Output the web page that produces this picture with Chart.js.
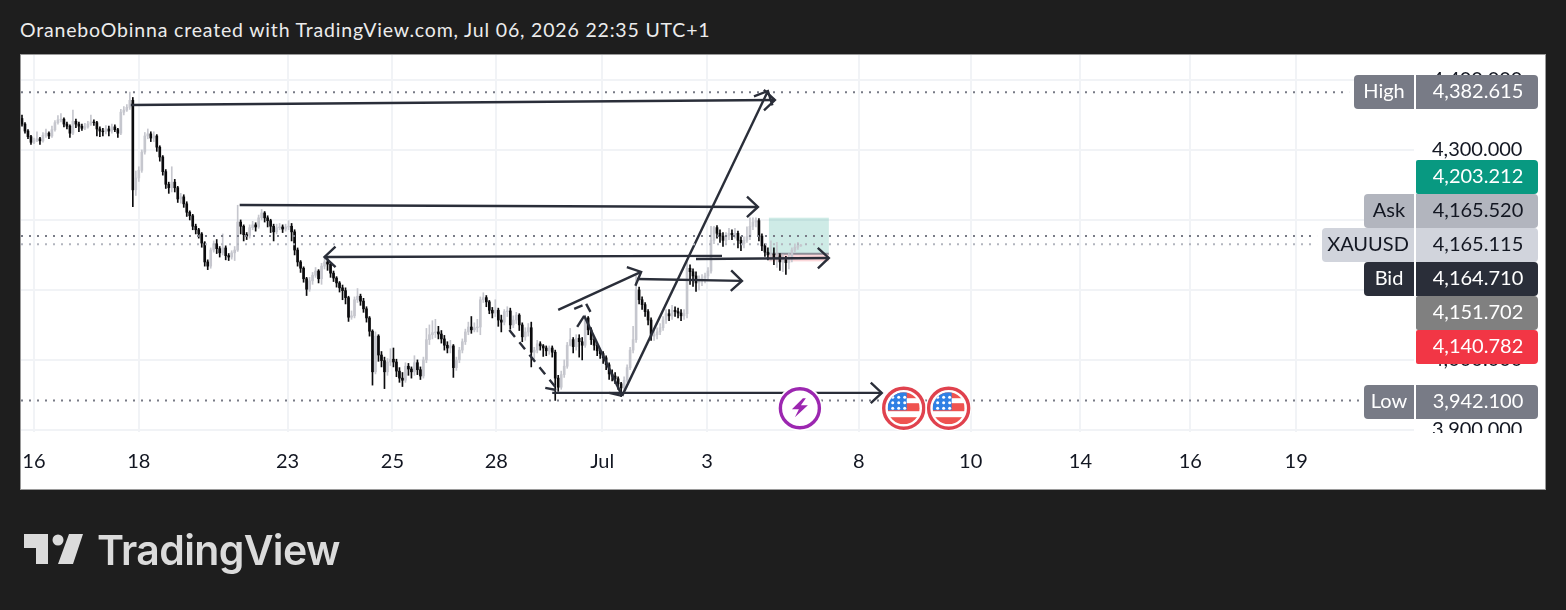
<!DOCTYPE html>
<html>
<head>
<meta charset="utf-8">
<title>XAUUSD</title>
<script src="https://cdn.jsdelivr.net/npm/chart.js@4"></script>
<style>
  html, body { margin: 0; padding: 0; width: 1566px; height: 610px; overflow: hidden; background: #1e1e1e; }
  #title { position: absolute; left: 20px; top: 18px; color: #ececec; font: 400 19.5px Lato, sans-serif; letter-spacing: 0.82px; white-space: nowrap; }
  #panel { position: absolute; left: 20px; top: 54px; width: 1524px; height: 434px; background: #fff; border: 1px solid #9a9a9a; }
  #chart { position: absolute; left: 0; top: 0; }
  #logo { position: absolute; left: 0; top: 520px; }
  #brand { position: absolute; left: 97px; top: 525px; color: #dbdbdb; font: 600 41px Inter, sans-serif; letter-spacing: -0.65px; white-space: nowrap; }
</style>
</head>
<body>
<div id="title">OraneboObinna created with TradingView.com, Jul 06, 2026 22:35 UTC+1</div>
<div id="panel"></div>
<canvas id="chart" width="1566" height="610"></canvas>
<svg id="logo" width="96" height="60"><path d="M24 14h24v30H36V28H24z M69 14h14L73 44H58z" fill="#dbdbdb"/><circle cx="58" cy="20" r="5.5" fill="#dbdbdb"/></svg>
<div id="brand">TradingView</div>
<script>
const firstOpen = 4345;
const closes = [
  4337,4327,4319,4311,4314,4316,4313,4321,4324,4320,4329,4339,4343,4344,4337,4334,4324,4341,4337,4334,
  4331,4333,4337,4340,4339,4330,4327,4326,4330,4327,4333,4329,4324,4354,4357,4361,4371,4243,4260,4271,
  4297,4320,4323,4317,4320,4304,4290,4269,4251,4246,4254,4246,4230,4233,4223,4211,4206,4191,4186,4180,
  4167,4140,4134,4157,4166,4159,4153,4160,4149,4147,4153,4157,4197,4191,4179,4177,4189,4193,4190,4203,
  4210,4203,4199,4191,4183,4189,4190,4187,4190,4191,4183,4157,4140,4131,4116,4101,4113,4121,4127,4116,
  4134,4140,4137,4124,4117,4110,4103,4099,4089,4061,4063,4086,4091,4084,4073,4060,4041,3983,4034,4007,
  3999,3983,3997,4001,3997,3984,3974,3971,3991,3987,3983,3996,3986,3977,4000,4029,4036,4039,4040,4037,
  4030,4021,4017,4020,3989,4000,4014,4026,4040,4047,4043,4046,4047,4086,4089,4083,4071,4067,4071,4057,
  4054,4069,4070,4050,4057,4064,4050,4033,4040,4046,4011,4014,4023,4020,4017,4013,4017,4011,3974,3961,
  3979,3991,4021,4029,4019,4031,4026,4021,4060,4043,4029,4021,4013,4009,4003,3993,3980,3977,3973,3966,
  3960,3971,3989,4014,4029,4100,4086,4079,4069,4057,4034,4036,4040,4046,4057,4066,4063,4071,4069,4067,
  4063,4066,4131,4126,4120,4110,4114,4117,4120,4127,4171,4189,4181,4177,4171,4177,4181,4179,4181,4171,
  4166,4171,4176,4191,4197,4199,4177,4163,4154,4150,4151,4146,4149,4140,4143,4139,4146,4157,4161,4163,4164
];
const highs = [
  4350,4339,4329,4321,4317,4326,4318,4325,4330,4326,4334,4342,4349,4352,4346,4340,4336,4357,4344,4340,
  4337,4338,4341,4350,4343,4341,4333,4331,4335,4334,4337,4336,4331,4358,4362,4365,4382.6,4375,4270,4276,
  4300,4325,4330,4326,4326,4322,4306,4292,4272,4254,4276,4258,4248,4238,4236,4226,4213,4208,4194,4188,
  4182,4169,4143,4160,4170,4172,4162,4180,4163,4152,4156,4162,4221,4200,4193,4182,4193,4198,4196,4207,
  4215,4212,4206,4201,4194,4194,4195,4193,4194,4199,4195,4186,4160,4142,4133,4118,4118,4125,4132,4129,
  4138,4148,4145,4139,4127,4119,4112,4107,4103,4091,4070,4090,4102,4094,4088,4076,4062,4043,4040,4036,
  4012,4004,4002,4016,4017,4001,3989,3982,3996,3995,3990,4006,4000,3990,4004,4045,4050,4056,4058,4048,
  4042,4035,4026,4028,4022,4004,4018,4030,4044,4054,4062,4053,4058,4090,4096,4092,4085,4075,4086,4074,
  4064,4072,4076,4074,4063,4068,4066,4053,4046,4052,4054,4018,4028,4026,4022,4020,4020,4020,4014,3978,
  3984,4000,4025,4045,4032,4036,4036,4032,4064,4062,4046,4032,4024,4016,4012,4006,3996,3986,3982,3976,
  3968,3976,3993,4018,4048,4120,4104,4090,4082,4072,4060,4044,4046,4052,4062,4072,4072,4078,4076,4074,
  4072,4072,4140,4136,4130,4126,4120,4122,4124,4132,4191,4191,4192,4186,4182,4182,4188,4186,4188,4184,
  4176,4176,4190,4203,4203,4203,4202,4180,4166,4160,4170,4160,4168,4152,4150,4148,4152,4160,4166,4168,4165
];
const lows = [
  4334,4324,4316,4308,4309,4312,4308,4311,4318,4316,4318,4327,4337,4340,4333,4330,4318,4322,4332,4326,
  4328,4329,4331,4335,4335,4320,4319,4320,4323,4320,4324,4326,4318,4322,4350,4355,4358,4219,4235,4255,
  4268,4294,4316,4312,4312,4298,4284,4264,4245,4238,4240,4240,4225,4224,4218,4205,4200,4186,4180,4174,
  4161,4134,4129,4131,4154,4152,4147,4150,4143,4142,4144,4142,4155,4180,4170,4172,4174,4186,4184,4188,
  4200,4197,4190,4182,4170,4180,4186,4182,4184,4186,4170,4150,4134,4125,4111,4092,4098,4108,4118,4110,
  4108,4130,4128,4118,4112,4104,4097,4086,4080,4055,4058,4060,4082,4078,4068,4054,4034,3964,3980,3998,
  3990,3959,3978,3992,3990,3976,3968,3962,3968,3978,3974,3978,3979,3972,3974,3996,4022,4030,4032,4030,
  4024,4014,4010,4010,3975,3985,3996,4010,4022,4036,4038,4040,4040,4036,4082,4076,4066,4060,4062,4048,
  4040,4050,4062,4044,4046,4052,4042,4026,4028,4034,3990,4000,4010,4014,4005,4006,4008,4004,3942.1,3955,
  3958,3975,3988,4020,4010,4014,4004,4000,4018,4036,4022,4014,4006,4002,3995,3986,3972,3970,3966,3958,
  3948,3955,3968,3986,4010,4025,4080,4072,4062,4050,4028,4028,4030,4036,4042,4052,4056,4058,4062,4060,
  4056,4058,4060,4108,4105,4098,4100,4106,4110,4116,4124,4166,4174,4168,4162,4166,4172,4172,4174,4160,
  4156,4160,4168,4172,4186,4190,4170,4156,4148,4143,4142,4136,4132,4128,4126,4122,4130,4140,4154,4158,4162
];
const timeTicks = [4, 39, 88.67, 123.67, 158.33, 193.67, 228.67, 279.33, 316.67, 353.33, 390, 425.33];
const timeLabels = ['16', '18', '23', '25', '28', 'Jul', '3', '8', '10', '14', '16', '19'];
const priceTicks = [4400, 4300, 4200, 4100, 4000, 3900];

// [bar, price, bar, price], head at the second point
const arrows = [
  [36.33, 4364.3, 251.33, 4371.4],
  [200.33, 3948.6, 249, 4384.3],
  [72.67, 4221.4, 245.67, 4218.6],
  [233.67, 4148.6, 101, 4147.1],
  [225, 4144.3, 269.33, 4145.7],
  [205.33, 4115.7, 240.33, 4112.9],
  [179, 4071.4, 206.67, 4125.7],
  [177, 3952.9, 287, 3952.9]
];
const plainLines = [
  [200.33, 3948.6, 187.67, 4063],
  [196, 3952.9, 200.33, 3948.6],
  [185.33, 4047.2, 187.67, 4063],
  [174.67, 3960, 178.33, 3957]
];
const dashedLines = [
  [162.67, 4042.9, 178.33, 3960],
  [184.33, 4073, 188.33, 4080],
  [188.33, 4080, 190.33, 4064.3]
];
// price, last bar
const levels = [[4382.615, 443], [4177, 432.3], [4165.115, 432.3], [3942.1, 446.3]];
const levelColors = ['#787b86', '#787b86', '#b2b5be', '#787b86'];

const boxBars = [249.33, 269.33];
const tpPrice = 4203.212, entryPrice = 4151.702, slPrice = 4140.782;

const badgeNames = ['High', '', 'Ask', 'XAUUSD', 'Bid', '', '', 'Low'];
const badgePrices = [4382.615, 4203.212, 4165.52, 4165.115, 4164.71, 4151.702, 4140.782, 3942.1];

const eventBars = [259.67, 294.33, 309.33];
const eventPrice = 3931;

// badge styles
const badgeTops = [75, 160, 194, 228, 262, 296, 330, 385];
const badgeLefts = [1354, 0, 1364, 1322, 1364, 0, 0, 1364];
const badgeFills = ['#787b86', '#089981', '#b2b5be', '#d1d4dc', '#2a2e39', '#808080', '#f23645', '#787b86'];
const badgeInk = ['#fff', '#fff', '#131722', '#131722', '#fff', '#fff', '#fff', '#fff'];

const fmt = v => v.toLocaleString('en-US', { minimumFractionDigits: 3, maximumFractionDigits: 3 });
const opens = closes.map((c, i) => i ? closes[i - 1] : firstOpen);
const inkFor = closes.map((c, i) => c >= opens[i] ? '#c6c7ce' : '#0b0b0d');

const segment = (s, color, dash) => ({
  type: 'line',
  data: [{ x: s[0], y: s[1] }, { x: s[2], y: s[3] }],
  borderColor: color,
  borderWidth: dash && dash[0] === 2 ? 2 : 2.4,
  borderDash: dash || [],
  pointRadius: 0,
  tension: 0,
  order: 0
});

const riskBox = {
  id: 'riskBox',
  beforeDatasetsDraw(chart) {
    const { ctx, scales: { x, y } } = chart;
    const l = x.getPixelForValue(boxBars[0]), r = x.getPixelForValue(boxBars[1]);
    const top = y.getPixelForValue(tpPrice), mid = y.getPixelForValue(entryPrice), bot = y.getPixelForValue(slPrice);
    ctx.save();
    ctx.fillStyle = 'rgba(8,153,129,0.2)';
    ctx.fillRect(l, top, r - l, mid - top);
    ctx.fillStyle = 'rgba(242,54,69,0.2)';
    ctx.fillRect(l, mid, r - l, bot - mid);
    ctx.fillStyle = 'rgba(120,123,134,0.8)';
    ctx.fillRect(l, mid - 1, r - l, 2);
    ctx.restore();
  }
};

function drawFlag(ctx, cx, cy) {
  ctx.save();
  ctx.fillStyle = '#fff';
  ctx.beginPath(); ctx.arc(cx, cy, 23, 0, Math.PI * 2); ctx.fill();
  ctx.strokeStyle = '#e0424e';
  ctx.lineWidth = 3.4;
  ctx.beginPath(); ctx.arc(cx, cy, 20, 0, Math.PI * 2); ctx.stroke();
  ctx.beginPath(); ctx.arc(cx, cy, 16, 0, Math.PI * 2); ctx.clip();
  ctx.fillStyle = '#ef5350';
  ctx.fillRect(cx - 16, cy - 16, 32, 6);
  ctx.fillRect(cx - 16, cy - 5, 32, 8);
  ctx.fillRect(cx - 16, cy + 9, 32, 7);
  ctx.fillStyle = '#2f80e4';
  ctx.fillRect(cx - 16, cy - 16, 19, 18);
  ctx.fillStyle = '#fff';
  for (let r = 0; r < 3; r++) {
    for (let c = 0; c < 3; c++) {
      ctx.beginPath();
      ctx.arc(cx - 11 + c * 6, cy - 11 + r * 5.5, 1.5, 0, Math.PI * 2);
      ctx.fill();
    }
  }
  ctx.restore();
}

function drawBolt(ctx, cx, cy) {
  ctx.save();
  ctx.fillStyle = '#fff';
  ctx.beginPath(); ctx.arc(cx, cy, 23, 0, Math.PI * 2); ctx.fill();
  ctx.strokeStyle = '#9c27b0';
  ctx.lineWidth = 3.4;
  ctx.beginPath(); ctx.arc(cx, cy, 19.5, 0, Math.PI * 2); ctx.stroke();
  ctx.fillStyle = '#9c27b0';
  ctx.beginPath();
  ctx.moveTo(cx + 3, cy - 10);
  ctx.lineTo(cx - 8, cy + 1);
  ctx.lineTo(cx - 1, cy + 1);
  ctx.lineTo(cx - 5, cy + 9);
  ctx.lineTo(cx + 8, cy - 3);
  ctx.lineTo(cx + 1, cy - 3);
  ctx.lineTo(cx + 6, cy - 10);
  ctx.closePath();
  ctx.fill();
  ctx.restore();
}

const overlays = {
  id: 'overlays',
  afterDatasetsDraw(chart) {
    const { ctx, scales: { x, y } } = chart;
    ctx.save();
    ctx.strokeStyle = '#2a2e39';
    ctx.lineWidth = 2.4;
    arrows.forEach(a => {
      const x1 = x.getPixelForValue(a[0]), y1 = y.getPixelForValue(a[1]);
      const x2 = x.getPixelForValue(a[2]), y2 = y.getPixelForValue(a[3]);
      const ang = Math.atan2(y2 - y1, x2 - x1);
      ctx.beginPath();
      ctx.moveTo(x2 - 15 * Math.cos(ang - 0.75), y2 - 15 * Math.sin(ang - 0.75));
      ctx.lineTo(x2, y2);
      ctx.lineTo(x2 - 15 * Math.cos(ang + 0.75), y2 - 15 * Math.sin(ang + 0.75));
      ctx.stroke();
    });
    ctx.restore();
    const cy = y.getPixelForValue(eventPrice);
    drawBolt(ctx, x.getPixelForValue(eventBars[0]), cy);
    drawFlag(ctx, x.getPixelForValue(eventBars[1]), cy);
    drawFlag(ctx, x.getPixelForValue(eventBars[2]), cy);
  },
  afterDraw(chart) {
    const { ctx } = chart;
    ctx.save();
    // price labels are cut off at the bottom of the pane
    ctx.fillStyle = '#fff';
    ctx.fillRect(1416, 433, 128, 14);
    ctx.textBaseline = 'middle';
    ctx.font = '400 20px Lato, sans-serif';
    badgePrices.forEach((p, i) => {
      const top = badgeTops[i], h = 34;
      ctx.fillStyle = badgeFills[i];
      ctx.beginPath();
      ctx.roundRect(1416, top, 122, h, badgeNames[i] ? [0, 4, 4, 0] : [2, 4, 4, 2]);
      ctx.fill();
      ctx.fillStyle = badgeInk[i];
      ctx.textAlign = 'center';
      ctx.fillText(fmt(p), 1478, top + h / 2);
      if (badgeNames[i]) {
        ctx.fillStyle = badgeFills[i];
        ctx.beginPath();
        ctx.roundRect(badgeLefts[i], top, 1414 - badgeLefts[i], h, [4, 0, 0, 4]);
        ctx.fill();
        ctx.fillStyle = badgeInk[i];
        ctx.fillText(badgeNames[i], (badgeLefts[i] + 1414) / 2, top + h / 2);
      }
    });
    ctx.restore();
  }
};

const datasets = [
  {
    type: 'bar',
    data: lows.map((l, i) => ({ x: i, y: [l, highs[i]] })),
    backgroundColor: inkFor,
    barThickness: 1,
    grouped: false,
    order: 2
  },
  {
    type: 'bar',
    data: closes.map((c, i) => ({ x: i, y: [opens[i], c] })),
    backgroundColor: inkFor,
    barThickness: 2,
    grouped: false,
    order: 2
  }
];
levels.forEach((lv, i) => {
  datasets.push(segment([-0.33, lv[0], lv[1], lv[0]], levelColors[i], [2, 6]));
});
arrows.concat(plainLines).forEach(s => datasets.push(segment(s, '#2a2e39')));
dashedLines.forEach(s => datasets.push(segment(s, '#2a2e39', [9, 7])));

new Chart(document.getElementById('chart'), {
  type: 'bar',
  data: { datasets },
  plugins: [riskBox, overlays],
  options: {
    responsive: false,
    animation: false,
    events: [],
    layout: { padding: { left: 21, top: 55, right: 21, bottom: 121 } },
    plugins: { legend: { display: false }, tooltip: { enabled: false } },
    scales: {
      x: {
        type: 'linear',
        min: -0.33,
        max: 464.67,
        offset: false,
        afterFit: s => { s.height = 57; },
        afterBuildTicks: s => { s.ticks = timeTicks.map(v => ({ value: v })); },
        grid: { color: '#f1f3f6', lineWidth: 2, drawTicks: false, offset: false },
        border: { display: false },
        ticks: {
          autoSkip: false,
          maxRotation: 0,
          padding: 18,
          color: '#131722',
          font: { family: 'Lato', size: 20, weight: '400' },
          callback: (v, i) => timeLabels[i]
        }
      },
      y: {
        position: 'right',
        min: 3897,
        max: 4435.7,
        afterFit: s => { s.width = 131; },
        afterBuildTicks: s => { s.ticks = priceTicks.map(v => ({ value: v })); },
        grid: { color: '#f1f3f6', lineWidth: 2, drawTicks: false },
        border: { display: false },
        ticks: {
          autoSkip: false,
          padding: 18,
          color: '#131722',
          font: { family: 'Lato', size: 20, weight: '400' },
          callback: v => fmt(v)
        }
      }
    }
  }
});
</script>
</body>
</html>
